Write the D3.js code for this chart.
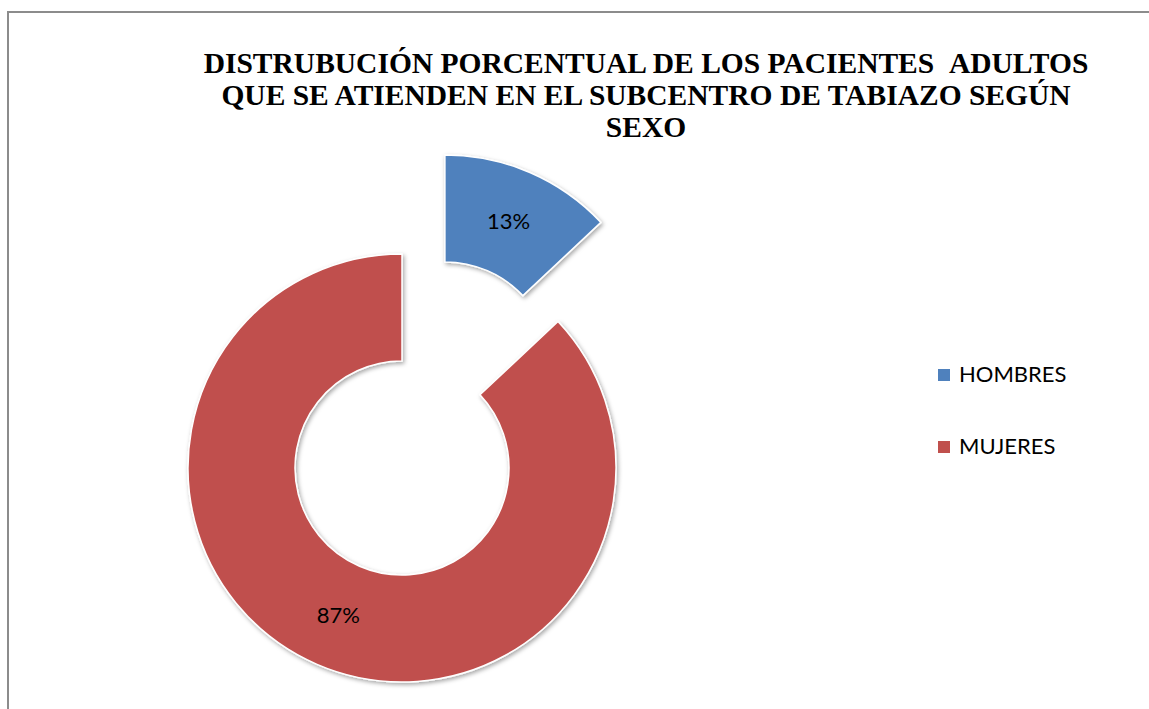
<!DOCTYPE html>
<html>
<head>
<meta charset="utf-8">
<script src="https://cdn.jsdelivr.net/npm/d3@7"></script>
<style>
  body { margin: 0; background: #fff; }
  svg { display: block; }
</style>
</head>
<body>
<svg id="chart"></svg>
<script>
// chart data
const categories = ["HOMBRES", "MUJERES"];
const values = [13, 87];
const colors = ["#4F81BD", "#C0504D"];
const titleLines = [
  "DISTRUBUCIÓN PORCENTUAL DE LOS PACIENTES \u00a0ADULTOS",
  "QUE SE ATIENDEN EN EL SUBCENTRO DE TABIAZO SEGÚN",
  "SEXO"
];

let width = 1149;
let height = 709;

let svg = d3.select("#chart")
    .attr("width", width)
    .attr("height", height);

// frame of the chart area
svg.append("rect")
    .attr("x", 8)
    .attr("y", 12)
    .attr("width", width + 10)
    .attr("height", height + 10)
    .attr("fill", "none")
    .attr("stroke", "#8c8c8c")
    .attr("stroke-width", 2);

// soft shadow like the office chart
let defs = svg.append("defs");
defs.append("filter")
    .attr("id", "shadow")
    .attr("x", "-20%").attr("y", "-20%")
    .attr("width", "140%").attr("height", "140%")
  .append("feDropShadow")
    .attr("dx", 1.5).attr("dy", 2)
    .attr("stdDeviation", 2)
    .attr("flood-color", "#000")
    .attr("flood-opacity", 0.35);

// title, Times-like bold, lines 32px apart
svg.append("g").selectAll("text")
    .data(titleLines)
    .enter().append("text")
    .attr("x", 646)
    .attr("y", function(d, i) { return 73 + i * 32; })
    .attr("text-anchor", "middle")
    .style("font-family", "Liberation Serif")
    .style("font-weight", "bold")
    .style("font-size", "29.5px")
    .attr("fill", "#000")
    .text(function(d) { return d; });

// donut
let cx = 402, cy = 468;
let outerR = 214, innerR = 107;
let explode = 108;

let pie = d3.pie().sort(null).value(function(d) { return d; });
let arc = d3.arc().innerRadius(innerR).outerRadius(outerR);
let labelArc = d3.arc().innerRadius((innerR + outerR) / 2).outerRadius((innerR + outerR) / 2);

let total = d3.sum(values);
let slices = pie(values);

let gPie = svg.append("g")
    .attr("transform", "translate(" + cx + "," + cy + ")");

let slice = gPie.selectAll("g.slice")
    .data(slices)
    .enter().append("g")
    .attr("class", "slice")
    .attr("transform", function(d, i) {
      if (i !== 0) return null;   // only HOMBRES is pulled out
      let a = (d.startAngle + d.endAngle) / 2;
      return "translate(" + (explode * Math.sin(a)) + "," + (-explode * Math.cos(a)) + ")";
    });

slice.append("path")
    .attr("d", arc)
    .attr("fill", function(d, i) { return colors[i]; })
    .attr("stroke", "#fff")
    .attr("stroke-width", 1.5)
    .attr("filter", "url(#shadow)");

slice.append("text")
    .attr("transform", function(d) { return "translate(" + labelArc.centroid(d) + ")"; })
    .attr("text-anchor", "middle")
    .attr("dy", "0.35em")
    .style("font-family", "Lato")
    .style("font-size", "22px")
    .attr("fill", "#000")
    .text(function(d) { return Math.round(d.value / total * 100) + "%"; });

// legend
let legend = svg.append("g")
    .attr("transform", "translate(938,369)");

let item = legend.selectAll("g")
    .data(categories)
    .enter().append("g")
    .attr("transform", function(d, i) { return "translate(0," + (i * 72) + ")"; });

item.append("rect")
    .attr("width", 12)
    .attr("height", 12)
    .attr("fill", function(d, i) { return colors[i]; });

item.append("text")
    .attr("x", 21)
    .attr("y", 13)
    .style("font-family", "Lato")
    .style("font-size", "22px")
    .attr("fill", "#000")
    .text(function(d) { return d; });
</script>
</body>
</html>
